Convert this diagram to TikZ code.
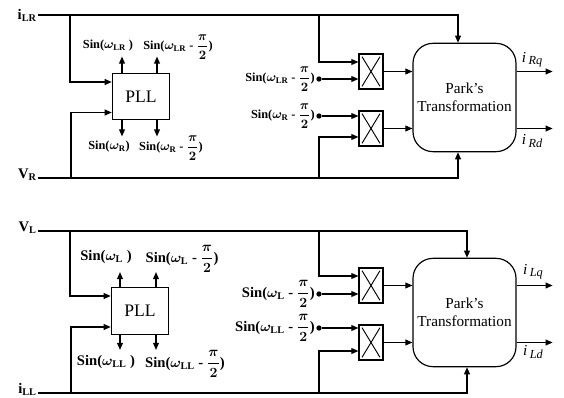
\documentclass[tikz,border=0pt]{standalone}
\usepackage{fontspec}
\setmainfont{Liberation Serif}
\usepackage{amsmath}
\usetikzlibrary{arrows.meta, positioning, calc}
\tikzset{
  pllbox/.style={rectangle, draw, line width=1pt, minimum width=1.72cm,
    minimum height=1.4cm, inner sep=0pt, font=\fontsize{15}{17}\selectfont},
  multbox/.style={rectangle, draw, line width=1pt, minimum width=0.72cm,
    minimum height=1.05cm, inner sep=0pt,
    path picture={
      \draw[line width=0.8pt]
        ([shift={(0.09cm,-0.08cm)}]path picture bounding box.north west) --
        ([shift={(-0.09cm,0.08cm)}]path picture bounding box.south east);
      \draw[line width=0.8pt]
        ([shift={(-0.09cm,-0.08cm)}]path picture bounding box.north east) --
        ([shift={(0.09cm,0.08cm)}]path picture bounding box.south west);}},
  parkbox/.style={rectangle, draw, line width=1pt, rounded corners=0.6cm,
    minimum width=3.09cm, minimum height=3.25cm, align=center,
    font=\fontsize{13}{15}\selectfont},
  arrow/.style={-{Triangle[length=6pt,width=5pt]}, line width=1pt},
  sinlbl/.style={font=\fontsize{10.5}{12}\selectfont\bfseries\boldmath, inner sep=1pt},
  sinlblbig/.style={font=\fontsize{12.5}{14}\selectfont\bfseries\boldmath, inner sep=1pt},
  siglbl/.style={font=\fontsize{12.5}{14}\selectfont\bfseries\boldmath, inner sep=1pt},
  outlbl/.style={font=\fontsize{13}{15}\selectfont\itshape, inner sep=1pt},
  dotpt/.style={circle, fill, inner sep=0pt, minimum size=4.5pt}
}
\newcommand{\outsub}[1]{\,\raisebox{-0.35ex}{\fontsize{10.5}{12}\selectfont #1}}

\begin{document}
\begin{tikzpicture}[x=0.03cm, y=-0.03cm]
  \useasboundingbox (0,0) rectangle (564,398);

  % Upper unit
  \node[pllbox] (pllR) at (141,96.5) {PLL};
  \node[multbox] (mR1) at (371,71.5) {};
  \node[multbox] (mR2) at (371,128.5) {};
  \node[parkbox] (parkR) at (464.5,97.5) {Park's\\Transformation};
  \node[siglbl, anchor=east] (iLR) at (38,15) {i$_{\mathrm{LR}}$};
  \node[siglbl, anchor=base east] (vR) at (38,178) {V$_{\mathrm{R}}$};
  \coordinate (jR1) at (70,15);
  \coordinate (jR2) at (71,178);
  \coordinate (jR3) at (319,15);
  \coordinate (jR4) at (319,178);

  \draw[arrow] (iLR.east) -| ($(parkR.north)+(-6.5,0)$);
  \draw[arrow] (vR.base east) -| ($(parkR.south)+(-6.5,0)$);
  \draw[arrow] (jR1) |- ($(pllR.west)+(0,-14.5)$);
  \draw[arrow] (jR2) |- ($(pllR.west)+(0,16)$);
  \draw[arrow] (jR3) |- ($(mR1.west)+(0,-9.5)$);
  \draw[arrow] (jR4) |- ($(mR2.west)+(0,8.5)$);

  \draw[arrow] ($(pllR.north)+(-19,0)$) -- ++(0,-16);
  \draw[arrow] ($(pllR.north)+(16,0)$) -- ++(0,-16);
  \draw[arrow] ($(pllR.south)+(-19,0)$) -- ++(0,16);
  \draw[arrow] ($(pllR.south)+(16,0)$) -- ++(0,16);
  \node[sinlbl] (sR1) at (108,46) {Sin($\omega_{\mathrm{LR}}$\ )};
  \node[sinlbl] (sR2) at (178,47) {Sin($\omega_{\mathrm{LR}}$ - $\dfrac{\pi}{2}$)};
  \node[sinlbl] (sR3) at (109,147) {Sin($\omega_{\mathrm{R}}$)};
  \node[sinlbl] (sR4) at (171,148) {Sin($\omega_{\mathrm{R}}$ - $\dfrac{\pi}{2}$)};

  \node[dotpt] (dR1) at (319,79) {};
  \node[dotpt] (dR2) at (319,116) {};
  \node[sinlbl, anchor=east] (sR5) at (dR1.west) {Sin($\omega_{\mathrm{LR}}$ - $\dfrac{\pi}{2}$)};
  \node[sinlbl, anchor=east] (sR6) at (dR2.west) {Sin($\omega_{\mathrm{R}}$ - $\dfrac{\pi}{2}$)};
  \draw[arrow] (dR1) -- (dR1 -| mR1.west);
  \draw[arrow] (dR2) -- (dR2 -| mR2.west);

  \draw[arrow] (mR1.east) -- (mR1.east -| parkR.west);
  \draw[arrow] (mR2.east) -- (mR2.east -| parkR.west);
  \draw[arrow] (mR1.east -| parkR.east) -- ++(36,0);
  \draw[arrow] (mR2.east -| parkR.east) -- ++(36,0);
  \node[outlbl] (oR1) at (532,60) {i\outsub{Rq}};
  \node[outlbl] (oR2) at (532,141) {i\outsub{Rd}};

  % Lower unit
  \node[pllbox] (pllL) at (140,311) {PLL};
  \node[multbox] (mL1) at (371,285.5) {};
  \node[multbox] (mL2) at (371,342.5) {};
  \node[parkbox] (parkL) at (464.5,312.5) {Park's\\Transformation};
  \node[siglbl, anchor=base east] (vL) at (38,231) {V$_{\mathrm{L}}$};
  \node[siglbl, anchor=base east] (iLL) at (38,393) {i$_{\mathrm{LL}}$};
  \coordinate (jL1) at (70,231);
  \coordinate (jL2) at (71,393);
  \coordinate (jL3) at (319,231);
  \coordinate (jL4) at (319,393);

  \draw[arrow] (vL.base east) -| ($(parkL.north)+(2.5,0)$);
  \draw[arrow] (iLL.base east) -| ($(parkL.south)+(2.5,0)$);
  \draw[arrow] (jL1) |- ($(pllL.west)+(0,-15)$);
  \draw[arrow] (jL2) |- ($(pllL.west)+(0,16)$);
  \draw[arrow] (jL3) |- ($(mL1.west)+(0,-9.5)$);
  \draw[arrow] (jL4) |- ($(mL2.west)+(0,8.5)$);

  \draw[arrow] ($(pllL.north)+(-20,0)$) -- ++(0,-15);
  \draw[arrow] ($(pllL.north)+(16,0)$) -- ++(0,-15);
  \draw[arrow] ($(pllL.south)+(-20,0)$) -- ++(0,15);
  \draw[arrow] ($(pllL.south)+(16,0)$) -- ++(0,15);
  \node[sinlblbig] (sL1) at (106,257) {Sin($\omega_{\mathrm{L}}$\ )};
  \node[sinlblbig] (sL2) at (182,259) {Sin($\omega_{\mathrm{L}}$ - $\dfrac{\pi}{2}$)};
  \node[sinlblbig] (sL3) at (106,362) {Sin($\omega_{\mathrm{LL}}$\ )};
  \node[sinlblbig] (sL4) at (185,364) {Sin($\omega_{\mathrm{LL}}$ - $\dfrac{\pi}{2}$)};

  \node[dotpt] (dL1) at (319,294) {};
  \node[dotpt] (dL2) at (319,328) {};
  \node[sinlblbig, anchor=east] (sL5) at (dL1.west) {Sin($\omega_{\mathrm{L}}$ - $\dfrac{\pi}{2}$)};
  \node[sinlblbig, anchor=east] (sL6) at (dL2.west) {Sin($\omega_{\mathrm{LL}}$ - $\dfrac{\pi}{2}$)};
  \draw[arrow] (dL1) -- (dL1 -| mL1.west);
  \draw[arrow] (dL2) -- (dL2 -| mL2.west);

  \draw[arrow] (mL1.east) -- (mL1.east -| parkL.west);
  \draw[arrow] (mL2.east) -- (mL2.east -| parkL.west);
  \draw[arrow] (mL1.east -| parkL.east) -- ++(36,0);
  \draw[arrow] (mL2.east -| parkL.east) -- ++(36,0);
  \node[outlbl] (oL1) at (533,272) {i\outsub{Lq}};
  \node[outlbl] (oL2) at (533,352) {i\outsub{Ld}};
\end{tikzpicture}
\end{document}
